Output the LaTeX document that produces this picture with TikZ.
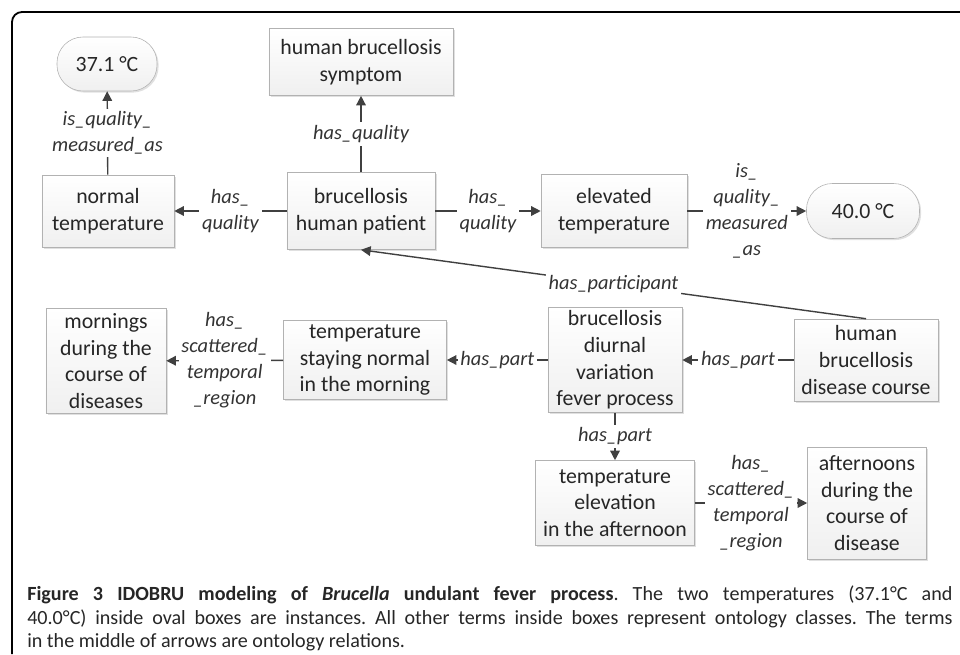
\documentclass[tikz,border=0pt]{standalone}
\usepackage{fontspec}
\setmainfont{Carlito}
\usetikzlibrary{arrows.meta,shadows}

\begin{document}
\begin{tikzpicture}[x=0.025cm,y=-0.025cm]
	\tikzset{>={Triangle[length=0.24cm,width=0.24cm]},
		cls/.style={draw=gray!60, top color=white, bottom color=gray!12,
			drop shadow={shadow xshift=0.04cm, shadow yshift=-0.04cm, fill=gray!40, opacity=0.6},
			align=center, inner sep=0pt, text=black!85, font=\fontsize{15.5}{19}\selectfont},
		inst/.style={cls, rounded corners=0.65cm},
		rel/.style={->, draw=black!75, line width=1pt},
		lbl/.style={fill=white, inner sep=2pt, align=center, text=black!80,
			font=\fontsize{14.5}{18.5}\selectfont\itshape}}
	\useasboundingbox (0,0) rectangle (960,654);
	\draw[line width=1.3pt, rounded corners=0.25cm] (960,12) -- (12,12) -- (12,654);

	\node[inst, minimum width=2.5cm, minimum height=1.35cm] (t37) at (107,64) {37.1 °C};
	\node[cls, minimum width=3.3cm, minimum height=1.8cm] (normal) at (108,211) {normal\\temperature};
	\node[cls, minimum width=4.6cm, minimum height=1.675cm] (symptom) at (361,62) {human brucellosis\\symptom};
	\node[cls, minimum width=3.7cm, minimum height=1.925cm] (patient) at (361,211) {brucellosis\\human patient};
	\node[cls, minimum width=3.65cm, minimum height=1.825cm] (elevated) at (614,211) {elevated\\temperature};
	\node[inst, minimum width=2.825cm, minimum height=1.375cm] (t40) at (863,211) {40.0 °C};

	\node[cls, minimum width=3.0cm, minimum height=2.625cm] (morn) at (106,361) {mornings\\during the\\course of\\diseases};
	\node[cls, minimum width=4.075cm, minimum height=1.975cm] (stay) at (365,360) {temperature\\staying normal\\in the morning};
	\node[cls, minimum width=3.35cm, minimum height=2.625cm] (diurnal) at (615,360) {brucellosis\\diurnal\\variation\\fever process};
	\node[cls, minimum width=3.6cm, minimum height=2.05cm] (course) at (866,360) {human\\brucellosis\\disease course};
	\node[cls, minimum width=3.975cm, minimum height=2.125cm] (elev) at (615,503) {temperature\\elevation\\in the afternoon};
	\node[cls, minimum width=2.975cm, minimum height=2.8cm] (aftn) at (867,503) {afternoons\\during the\\course of\\disease};

	\draw[rel] (normal) -- node[lbl] {is\_quality\_\\measured\_as} (t37);
	\draw[rel] (patient) -- node[lbl] {has\_quality} (symptom);
	\draw[rel] (patient) -- node[lbl] {has\_\\quality} (normal);
	\draw[rel] (patient) -- node[lbl] {has\_\\quality} (elevated);
	\draw[rel] (elevated) -- node[lbl] {is\_\\quality\_\\measured\\\_as} (t40);
	\draw[rel] (course.north) -- node[lbl] {has\_participant} (patient.south);
	\draw[rel] (stay) -- node[lbl] {has\_\\scattered\_\\temporal\\\_region} (morn);
	\draw[rel] (diurnal) -- node[lbl] {has\_part} (stay);
	\draw[rel] (course) -- node[lbl] {has\_part} (diurnal);
	\draw[rel] (diurnal) -- node[lbl] {has\_part} (elev);
	\draw[rel] (elev) -- node[lbl] {has\_\\scattered\_\\temporal\\\_region} (aftn);

	\node[anchor=north west, text width=23.125cm, align=justify, inner sep=0pt, text=black!85,
		font=\fontsize{14.3}{16.4}\selectfont\frenchspacing] (caption) at (27,586)
		{\textbf{Figure 3 IDOBRU modeling of \textit{Brucella} undulant fever process}. The two temperatures (37.1°C and\linebreak
		40.0°C) inside oval boxes are instances. All other terms inside boxes represent ontology classes. The terms\linebreak
		in the middle of arrows are ontology relations.};
\end{tikzpicture}
\end{document}
